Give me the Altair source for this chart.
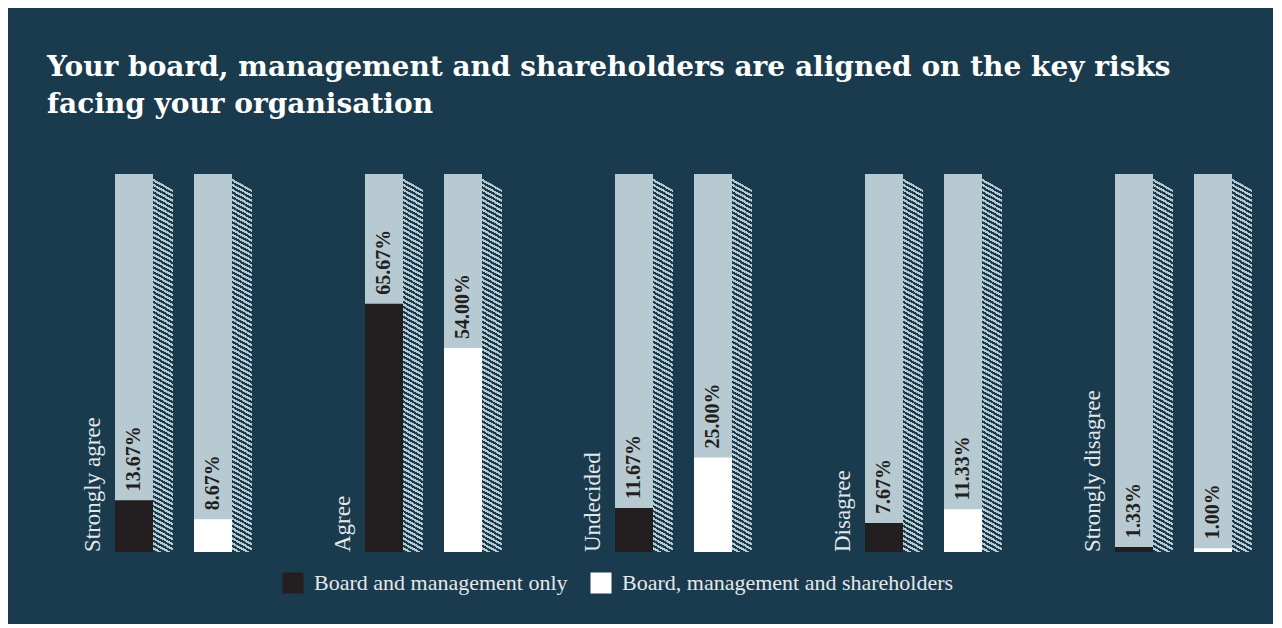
import altair as alt
import pandas as pd

# ---- data ----
categories = ["Strongly agree", "Agree", "Undecided", "Disagree", "Strongly disagree"]
series_names = ["Board and management only", "Board, management and shareholders"]
board_only = [13.67, 65.67, 11.67, 7.67, 1.33]
board_shareholders = [8.67, 54.00, 25.00, 11.33, 1.00]
title_lines = [
    "Your board, management and shareholders are aligned on the key risks",
    "facing your organisation",
]

# ---- styles ----
NAVY = "#1a3a4d"
LIGHT = "#b7c9d1"
BLACK = "#231f20"
WHITE = "#ffffff"
TEXT_LIGHT = "#e3e8eb"
SERIF = "Liberation Serif"
TITLE_FONT = "DejaVu Serif"

rows = []
for c, a, b in zip(categories, board_only, board_shareholders):
    rows.append({"category": c, "series": series_names[0], "value": a})
    rows.append({"category": c, "series": series_names[1], "value": b})
df = pd.DataFrame(rows)
cat_df = pd.DataFrame({"category": categories})

x_scale = alt.Scale(type="band", paddingInner=0.5, paddingOuter=0.148, align=1, round=False)
x_enc = alt.X("category:N", sort=categories, axis=None, scale=x_scale)
y_scale = alt.Scale(domain=[0, 100], nice=False, zero=True)

# hatch (diagonal stripes) as a sharp-stop linear gradient
N_STRIPES = 76
stops = []
for k in range(N_STRIPES):
    o0 = k / N_STRIPES
    o1 = (k + 0.5) / N_STRIPES
    o2 = (k + 1) / N_STRIPES
    stops += [
        alt.GradientStop(offset=o0, color=LIGHT),
        alt.GradientStop(offset=o1, color=LIGHT),
        alt.GradientStop(offset=o1, color=NAVY),
        alt.GradientStop(offset=o2, color=NAVY),
    ]
hatch = alt.LinearGradient(gradient="linear", stops=stops, x1=0.0291, y1=0, x2=0, y2=1)

OFF_A, OFF_B = -49.5, 29.5          # bar centres relative to group centre
SIDE_A, SIDE_B = -20.5, 58.5        # side-strip centres
LABEL_OFF = -83.5

cat_base = alt.Chart(cat_df).transform_calculate(full="100", zero="0")

def bg(off):
    return cat_base.mark_bar(width=38, xOffset=off, color=LIGHT).encode(
        x=x_enc, y=alt.Y("full:Q", scale=y_scale, axis=None)
    )

def side(off):
    return cat_base.mark_bar(width=20, xOffset=off, color=hatch).encode(
        x=x_enc, y=alt.Y("full:Q", scale=y_scale, axis=None)
    )

def cover(off):
    return cat_base.mark_point(
        shape="M -1 -1 L 1 -1 L 1 0.6 L -1 -0.6 Z",
        size=400, filled=True, color=NAVY, opacity=1, strokeWidth=0,
        xOffset=off, yOffset=10,
    ).encode(x=x_enc, y=alt.Y("full:Q", scale=y_scale, axis=None))

fill_enc = alt.Fill(
    "series:N",
    scale=alt.Scale(domain=series_names, range=[BLACK, WHITE]),
    legend=alt.Legend(
        title=None, orient="none", direction="horizontal",
        legendX=235, legendY=398,
        symbolType="square", symbolSize=441, symbolStrokeWidth=0, symbolOpacity=1,
        labelFont=SERIF, labelFontSize=22, labelColor=TEXT_LIGHT,
        labelOffset=10, columnPadding=22, padding=0, labelLimit=400,
    ),
)

base = alt.Chart(df)

def fill(name, off):
    return base.transform_filter(alt.datum.series == name).mark_bar(width=38, xOffset=off).encode(
        x=x_enc, y=alt.Y("value:Q", scale=y_scale, axis=None), fill=fill_enc
    )

def pct(name, off):
    return base.transform_filter(alt.datum.series == name).transform_calculate(
        label="format(datum.value, '.2f') + '%'"
    ).mark_text(
        angle=270, align="left", baseline="middle", xOffset=off, yOffset=-9,
        font=SERIF, fontSize=20, fontWeight="bold", color=BLACK,
    ).encode(x=x_enc, y=alt.Y("value:Q", scale=y_scale, axis=None), text="label:N")

cat_labels = cat_base.mark_text(
    angle=270, align="left", baseline="alphabetic", xOffset=LABEL_OFF,
    font=SERIF, fontSize=23, color=TEXT_LIGHT,
).encode(x=x_enc, y=alt.Y("zero:Q", scale=y_scale, axis=None), text="category:N")

chart = alt.layer(
    bg(OFF_A), bg(OFF_B),
    side(SIDE_A), side(SIDE_B),
    cover(SIDE_A), cover(SIDE_B),
    fill(series_names[0], OFF_A), fill(series_names[1], OFF_B),
    pct(series_names[0], OFF_A), pct(series_names[1], OFF_B),
    cat_labels,
).properties(
    width=1199,
    height=378,
    padding={"left": 39, "top": 46, "right": 21, "bottom": 30},
    title=alt.TitleParams(
        text=title_lines, anchor="start", frame="group",
        font=TITLE_FONT, fontSize=28, fontWeight="bold", color="white",
        lineHeight=37, offset=55,
    ),
).configure(background=NAVY).configure_view(stroke=None)

chart.save("out.html", embed_options={"renderer": "svg", "actions": False})
